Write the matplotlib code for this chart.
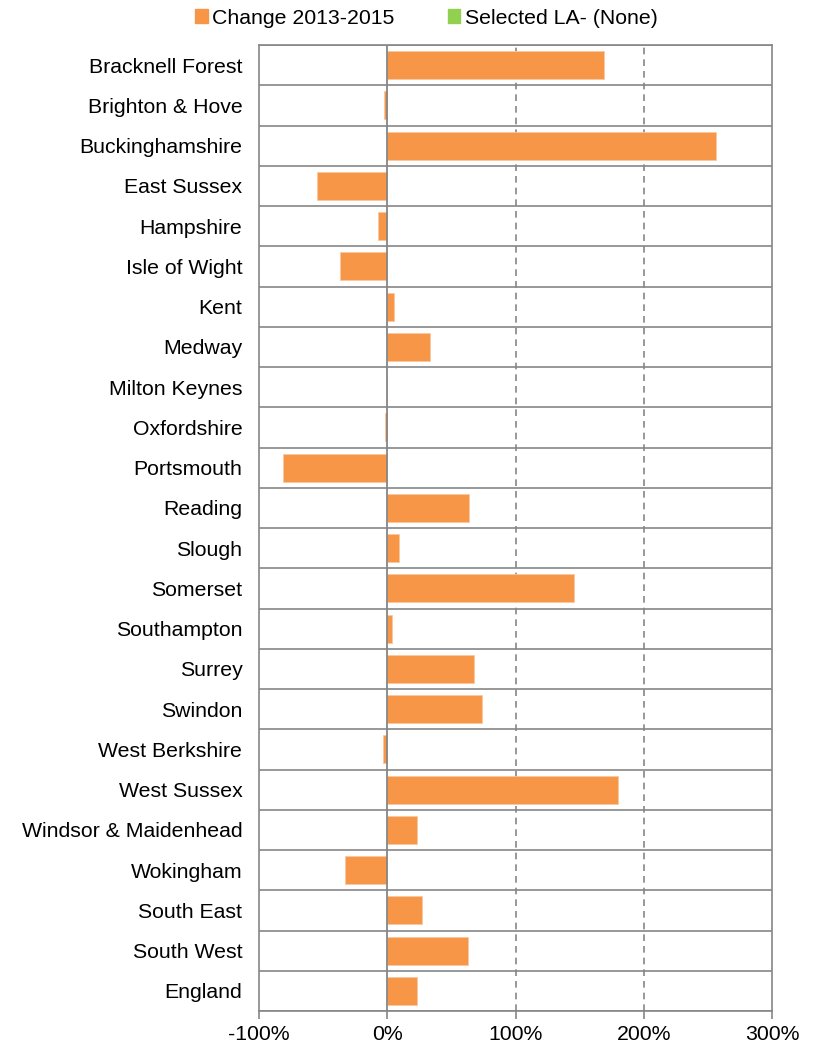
import numpy as np
import matplotlib.pyplot as plt
from matplotlib.patches import Patch
from matplotlib.ticker import FuncFormatter

plt.rcParams["font.family"] = ["Liberation Sans", "DejaVu Sans"]

areas = [
    "Bracknell Forest", "Brighton & Hove", "Buckinghamshire", "East Sussex",
    "Hampshire", "Isle of Wight", "Kent", "Medway", "Milton Keynes",
    "Oxfordshire", "Portsmouth", "Reading", "Slough", "Somerset",
    "Southampton", "Surrey", "Swindon", "West Berkshire", "West Sussex",
    "Windsor & Maidenhead", "Wokingham", "South East", "South West", "England",
]
change_pct = [
    169, -2.5, 256, -55, -7, -37, 5, 33, 0, -2, -81, 64, 9, 146, 4, 68, 74,
    -3, 180, 23, -33, 27, 63, 23,
]
x_ticks = [-100, 0, 100, 200, 300]

ORANGE = "#F79646"
GREEN = "#92D050"
GREY = "#868686"

fig = plt.figure(figsize=(8.2, 10.46), dpi=100)
ax = fig.add_axes([259 / 820, 1 - 1011 / 1046, 513 / 820, 966 / 1046])

y = np.arange(len(areas))
ax.barh(y, change_pct, height=0.7, color=ORANGE, edgecolor="#FAC8A0",
        linewidth=0.6, zorder=3)

ax.set_xlim(x_ticks[0], x_ticks[-1])
ax.set_ylim(len(areas) - 0.5, -0.5)

# category separators
ax.set_yticks(y)
ax.set_yticks(np.arange(len(areas) + 1) - 0.5, minor=True)
ax.yaxis.grid(True, which="minor", color=GREY, linewidth=1.2, zorder=1)
ax.set_yticklabels(areas, fontsize=15.3)
ax.tick_params(axis="y", which="both", length=0, pad=12)

# vertical lines
ax.set_xticks(x_ticks)
ax.xaxis.set_major_formatter(FuncFormatter(lambda v, _: f"{v:.0f}%"))
ax.tick_params(axis="x", length=6, width=1.2, color=GREY, labelsize=15.3, pad=4)
for v in x_ticks[1:-1]:
    if v == 0:
        ax.axvline(v, color=GREY, linewidth=1.3, zorder=4)
    else:
        ax.axvline(v, color=GREY, linewidth=1.2, linestyle=(0, (4, 3)), zorder=1)

for s in ax.spines.values():
    s.set_color(GREY)
    s.set_linewidth(1.2)

handles = [Patch(color=ORANGE, label="Change 2013-2015"),
           Patch(color=GREEN, label="Selected LA- (None)")]
fig.legend(handles=handles, loc="center", bbox_to_anchor=(0.52, 1 - 18 / 1046),
           ncol=2, frameon=False, fontsize=15.3, handlelength=0.6,
           handleheight=0.6, handletextpad=0.2, columnspacing=2.5)

fig.savefig("out.png", dpi=100)
